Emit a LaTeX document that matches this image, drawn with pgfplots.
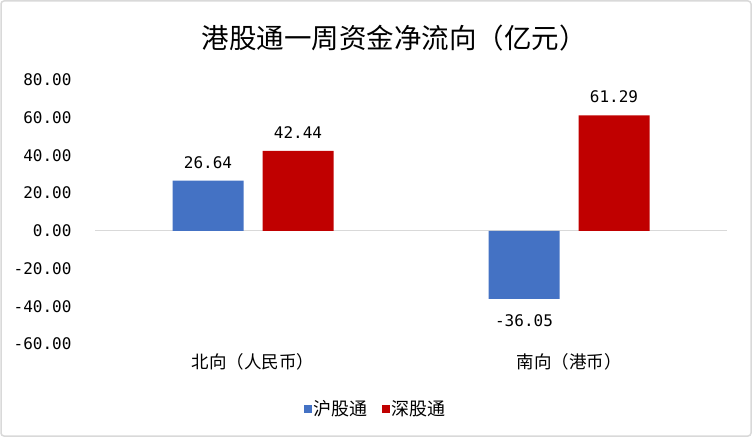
\documentclass[border=0pt]{standalone}
\usepackage{pgfplots}
\pgfplotsset{compat=1.18}
\usepackage{fontspec}
\setmainfont{Noto Sans CJK SC}
\newfontfamily\numfont{DejaVu Sans Mono}
\definecolor{hublue}{HTML}{4472C4}
\definecolor{shred}{HTML}{C00000}
\definecolor{framegray}{HTML}{D9D9D9}
\begin{document}
\begin{tikzpicture}
\path[use as bounding box] (0pt,0pt) rectangle (752pt,437pt);
\draw[framegray, line width=1.5pt, rounded corners=3pt] (1pt,1pt) rectangle (751pt,436pt);
\node[font=\fontsize{27.5}{31}\selectfont] at (394pt,399pt) {港股通一周资金净流向（亿元）};
\begin{axis}[
    at={(95pt,93pt)}, anchor=south west,
    scale only axis,
    width=632pt, height=264pt,
    ybar=19pt, bar width=71pt,
    xmin=-0.5, xmax=1.5,
    ymin=-60, ymax=80,
    axis line style={draw=none},
    major tick length=0pt,
    xtick={0,1},
    xticklabels={北向（人民币）, 南向（港币）},
    xticklabel style={font=\fontsize{17.5}{20}\selectfont, yshift=-6pt},
    ytick={-60,-40,-20,0,20,40,60,80},
    yticklabels={-60.00,-40.00,-20.00,0.00,20.00,40.00,60.00,80.00},
    yticklabel style={font=\numfont\fontsize{16}{19}\selectfont, xshift=-20pt},
    extra y ticks={0},
    extra y tick labels={},
    extra y tick style={grid=major, major grid style={framegray, line width=1pt}},
    nodes near coords,
    /pgf/number format/.cd, fixed, fixed zerofill, precision=2, assume math mode=true,
    /pgfplots/.cd,
    visualization depends on={y \as \rawy},
    every node near coord/.append style={font=\numfont\fontsize{16}{19}\selectfont,
        inner sep=9pt, text=black, yshift={ifthenelse(\rawy<0,-7,3)}},
    legend style={at={(0.4446,-0.246)}, anchor=center, draw=none, legend columns=2,
        font=\fontsize{18}{21}\selectfont,
        /tikz/every even column/.append style={column sep=12pt}},
    legend image code/.code={\fill[#1] (0pt,-4pt) rectangle (8pt,4pt);},
]
\addplot[fill=hublue, draw=none] coordinates {(0,26.64) (1,-36.05)};
\addplot[fill=shred, draw=none] coordinates {(0,42.44) (1,61.29)};
\legend{沪股通, 深股通}
\end{axis}
\end{tikzpicture}
\end{document}
